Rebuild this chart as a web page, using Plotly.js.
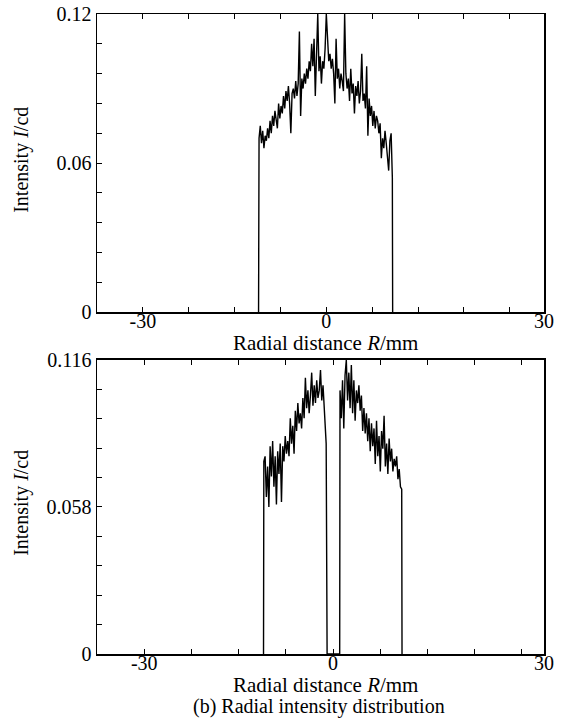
<!DOCTYPE html>
<html>
<head>
<meta charset="utf-8">
<script src="https://cdn.plot.ly/plotly-3.0.1.min.js"></script>
<style>html,body{margin:0;padding:0;background:#fff;}#chart{width:572px;height:722px;}</style>
</head>
<body>
<div id="chart"></div>
<script>
// (a) top panel: radial intensity, single plateau
const topR = [-11.08,
 -11.0,-10.8,-10.6,-10.4,-10.2,-10.0,-9.8,-9.6,-9.4,-9.2,
 -9.0,-8.8,-8.6,-8.4,-8.2,-8.0,-7.8,-7.6,-7.4,-7.2,
 -7.0,-6.8,-6.6,-6.4,-6.2,-6.0,-5.8,-5.6,-5.4,-5.2,
 -5.0,-4.8,-4.6,-4.4,-4.2,-4.0,-3.8,-3.6,-3.4,-3.2,
 -3.0,-2.8,-2.6,-2.4,-2.2,-2.0,-1.8,-1.6,-1.4,-1.2,
 -1.0,-0.8,-0.6,-0.4,-0.2,0.0,0.2,0.4,0.6,0.8,
 1.0,1.2,1.4,1.6,1.8,2.0,2.2,2.4,2.6,2.8,
 3.0,3.2,3.4,3.6,3.8,4.0,4.2,4.4,4.6,4.8,
 5.0,5.2,5.4,5.6,5.8,6.0,6.2,6.4,6.6,6.8,
 7.0,7.2,7.4,7.6,7.8,8.0,8.2,8.4,8.6,8.8,
 9.0,9.2,9.4,9.6,9.8,10.0,10.2,10.4,10.6,10.8,
 10.85];
const topI = [0,
 0.070,0.075,0.068,0.073,0.066,0.071,0.069,0.074,0.070,0.077,
 0.072,0.079,0.075,0.081,0.076,0.074,0.084,0.078,0.083,0.080,
 0.087,0.082,0.089,0.085,0.091,0.084,0.072,0.088,0.090,0.086,
 0.093,0.087,0.092,0.113,0.079,0.094,0.090,0.096,0.092,0.098,
 0.094,0.101,0.097,0.108,0.099,0.110,0.087,0.104,0.120,0.097,
 0.103,0.092,0.101,0.098,0.106,0.120,0.108,0.101,0.104,0.098,
 0.102,0.096,0.084,0.110,0.094,0.098,0.090,0.096,0.093,0.089,
 0.120,0.096,0.090,0.094,0.085,0.098,0.088,0.092,0.080,0.091,
 0.087,0.093,0.084,0.089,0.104,0.085,0.088,0.082,0.099,0.071,
 0.086,0.079,0.083,0.075,0.081,0.074,0.079,0.077,0.072,0.076,
 0.062,0.070,0.066,0.073,0.068,0.063,0.057,0.069,0.072,0.054,
 0];

// (b) bottom panel: radial intensity with central hole
const botR = [-11.05,
 -11.0,-10.8,-10.6,-10.4,-10.2,-10.0,-9.8,-9.6,-9.4,-9.2,
 -9.0,-8.8,-8.6,-8.4,-8.2,-8.0,-7.8,-7.6,-7.4,-7.2,
 -7.0,-6.8,-6.6,-6.4,-6.2,-6.0,-5.8,-5.6,-5.4,-5.2,
 -5.0,-4.8,-4.6,-4.4,-4.2,-4.0,-3.8,-3.6,-3.4,-3.2,
 -3.0,-2.8,-2.6,-2.4,-2.2,-2.0,-1.8,-1.6,-1.4,-1.2,-1.1,
 -0.95,1.05,
 1.1,1.3,1.5,1.7,1.9,2.1,2.3,2.5,2.7,2.9,
 3.1,3.3,3.5,3.7,3.9,4.1,4.3,4.5,4.7,4.9,
 5.1,5.3,5.5,5.7,5.9,6.1,6.3,6.5,6.7,6.9,
 7.1,7.3,7.5,7.7,7.9,8.1,8.3,8.5,8.7,8.9,
 9.1,9.3,9.5,9.7,9.9,10.1,10.3,10.5,10.7,10.9,
 10.95];
const botI = [0,
 0.076,0.078,0.062,0.074,0.058,0.082,0.070,0.084,0.066,0.078,
 0.059,0.080,0.071,0.083,0.060,0.082,0.076,0.086,0.079,0.084,
 0.078,0.093,0.083,0.090,0.079,0.096,0.088,0.099,0.091,0.095,
 0.089,0.101,0.093,0.109,0.097,0.104,0.095,0.102,0.111,0.098,
 0.106,0.099,0.108,0.101,0.104,0.112,0.100,0.106,0.097,0.092,0.083,
 0,0,
 0.104,0.093,0.108,0.089,0.110,0.116,0.100,0.111,0.097,0.114,
 0.095,0.108,0.092,0.104,0.099,0.106,0.096,0.102,0.088,0.097,
 0.087,0.095,0.084,0.093,0.080,0.091,0.082,0.089,0.075,0.092,
 0.078,0.086,0.072,0.088,0.081,0.094,0.074,0.083,0.071,0.085,
 0.076,0.081,0.072,0.077,0.074,0.078,0.069,0.073,0.066,0.065,
 0];

const xTickVals1 = [-30, 0, 35.6];
const xTickVals2 = [-30, 0, 33.5];
const xTickText = ["-30", "0", "30"];
const yTickVals1 = [0, 0.06, 0.12];
const yTickText1 = ["0", "0.06", "0.12"];
const yTickVals2 = [0, 0.058, 0.116];
const yTickText2 = ["0", "0.058", "0.116"];

const FONT = "Liberation Serif, Times New Roman, serif";

const traces = [
  {x: topR, y: topI, xaxis: 'x', yaxis: 'y', type: 'scatter', mode: 'lines',
   line: {color: '#000', width: 1.4}, hoverinfo: 'skip'},
  {x: botR, y: botI, xaxis: 'x2', yaxis: 'y2', type: 'scatter', mode: 'lines',
   line: {color: '#000', width: 1.4}, hoverinfo: 'skip'}
];

function xax(range, vals, anchor) {
  return {
    range: range, anchor: anchor, domain: [0, 1],
    tickmode: 'array', tickvals: vals, ticktext: xTickText,
    ticks: 'inside', ticklen: 5, tickwidth: 1, tickcolor: '#000',
    ticklabelstandoff: -10,
    minor: {tickmode: 'linear', tick0: 0, dtick: 7.5, ticks: 'inside', ticklen: 5, tickwidth: 1, tickcolor: '#000'},
    showline: true, linecolor: '#000', linewidth: 1.5, mirror: 'ticks',
    showgrid: false, zeroline: false,
    tickfont: {family: FONT, size: 20, color: '#000'}
  };
}
function yax(range, vals, text, dt, domain, anchor) {
  return {
    range: range, domain: domain, anchor: anchor,
    tickmode: 'array', tickvals: vals, ticktext: text,
    ticks: 'inside', ticklen: 5, tickwidth: 1, tickcolor: '#000',
    minor: {tickmode: 'linear', tick0: 0, dtick: dt, ticks: 'inside', ticklen: 5, tickwidth: 1, tickcolor: '#000'},
    showline: true, linecolor: '#000', linewidth: 1.5, mirror: true,
    showgrid: false, zeroline: false,
    tickfont: {family: FONT, size: 20, color: '#000'}
  };
}

const layout = {
  width: 572, height: 722,
  margin: {l: 97, r: 28, t: 14, b: 68},
  paper_bgcolor: '#fff', plot_bgcolor: '#fff',
  showlegend: false,
  font: {family: FONT, color: '#000', size: 20},
  xaxis: xax([-37.5, 35.6], xTickVals1, 'y'),
  yaxis: yax([0, 0.12], yTickVals1, yTickText1, 0.012, [0.534, 1], 'x'),
  xaxis2: xax([-37.5, 33.5], xTickVals2, 'y2'),
  yaxis2: yax([0, 0.116], yTickVals2, yTickText2, 0.0116, [0, 0.4594], 'x2'),
  annotations: [
    {text: 'Radial distance <i>R</i>/mm', xref: 'paper', yref: 'paper', x: 0.512, y: 0.486,
     xanchor: 'center', yanchor: 'middle', showarrow: false, font: {family: FONT, size: 21, color: '#000'}},
    {text: 'Radial distance <i>R</i>/mm', xref: 'paper', yref: 'paper', x: 0.512, y: -0.0484,
     xanchor: 'center', yanchor: 'middle', showarrow: false, font: {family: FONT, size: 21, color: '#000'}},
    {text: '(b) Radial intensity distribution', xref: 'paper', yref: 'paper', x: 0.4966, y: -0.0813,
     xanchor: 'center', yanchor: 'middle', showarrow: false, font: {family: FONT, size: 20, color: '#000'}},
    {text: 'Intensity <i>I</i>/cd', xref: 'paper', yref: 'paper', x: -0.168, y: 0.772, textangle: -90,
     xanchor: 'center', yanchor: 'middle', showarrow: false, font: {family: FONT, size: 20, color: '#000'}},
    {text: 'Intensity <i>I</i>/cd', xref: 'paper', yref: 'paper', x: -0.168, y: 0.236, textangle: -90,
     xanchor: 'center', yanchor: 'middle', showarrow: false, font: {family: FONT, size: 20, color: '#000'}}
  ]
};

Plotly.newPlot('chart', traces, layout, {staticPlot: true, displayModeBar: false});
</script>
</body>
</html>
